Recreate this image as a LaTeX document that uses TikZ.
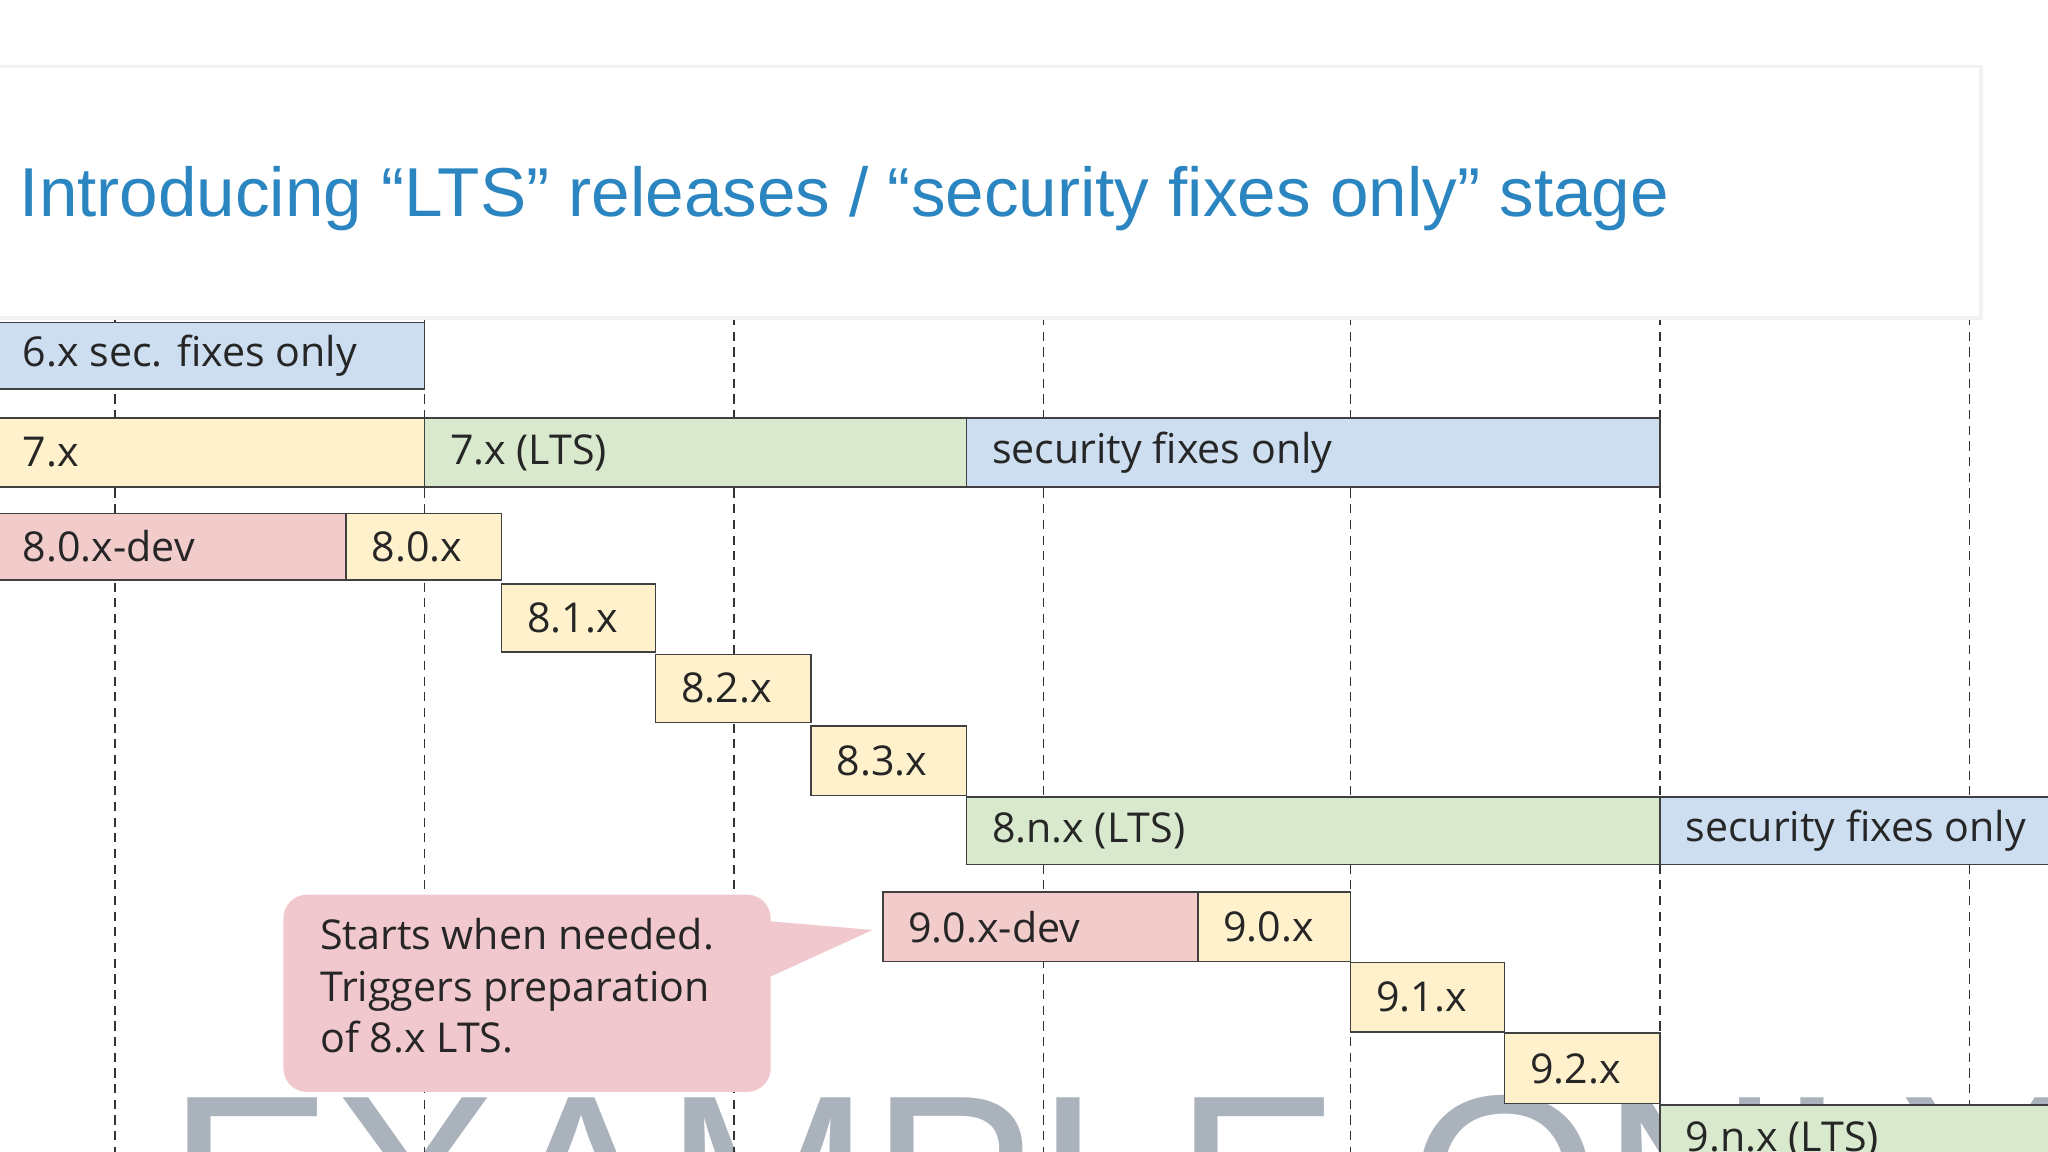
\documentclass[tikz,border=0pt]{standalone}
\usepackage{fontspec}
\setmainfont{Open Sans}
\newfontfamily\titlefont{Liberation Sans}
\definecolor{cbl}{RGB}{204,222,240}
\definecolor{cye}{RGB}{255,241,204}
\definecolor{cgr}{RGB}{216,233,206}
\definecolor{cpk}{RGB}{242,203,203}
\definecolor{ccall}{RGB}{240,200,205}
\definecolor{ctitle}{RGB}{42,133,192}
\definecolor{cwm}{RGB}{170,178,188}
\begin{document}
\begin{tikzpicture}[x=1pt,y=-1pt,
  bx/.style={draw=black!75,line width=1.2pt},
  bl/.style={fill=cbl}, ye/.style={fill=cye}, gr/.style={fill=cgr}, pk/.style={fill=cpk},
  lbl/.style={anchor=west,font=\fontsize{31.5}{33}\selectfont,text=black!85},
  vline/.style={line width=1.2pt,black!80,dash pattern=on 7pt off 5pt}]
\useasboundingbox (0,0) rectangle (1568,882);
\clip (0,0) rectangle (1568,882);
\fill[white] (0,0) rectangle (1568,882);
\def\B#1#2#3#4#5#6{\draw[bx,#5] (#1,#2) rectangle (#3,#4); \node[lbl] at (#1+16,{(#2+#4)/2}) {#6};}
\node[anchor=north west,font=\fontsize{190}{190}\selectfont\titlefont,text=cwm,inner sep=0pt] (wm) at (128,838) {EXAMPLE ONLY};
\foreach \x in {88,325,562,799,1034,1271,1508} \draw[vline] (\x,242) -- (\x,882);
\B{-2}{247}{325}{298}{bl}{6.x sec. fixes only}
\B{-2}{320}{325}{373}{ye}{7.x}
\B{325}{320}{740}{373}{gr}{7.x (LTS)}
\B{740}{320}{1271}{373}{bl}{security fixes only}
\B{-2}{393}{265}{444}{pk}{8.0.x-dev}
\B{265}{393}{384}{444}{ye}{8.0.x}
\B{384}{447}{502}{499}{ye}{8.1.x}
\B{502}{501}{621}{553}{ye}{8.2.x}
\B{621}{556}{740}{609}{ye}{8.3.x}
\B{740}{610}{1271}{662}{gr}{8.n.x (LTS)}
\B{1271}{610}{1600}{662}{bl}{security fixes only}
\B{676}{683}{917}{736}{pk}{9.0.x-dev}
\B{917}{683}{1034}{736}{ye}{9.0.x}
\B{1034}{737}{1152}{790}{ye}{9.1.x}
\B{1152}{791}{1271}{845}{ye}{9.2.x}
\B{1271}{846}{1600}{900}{gr}{9.n.x (LTS)}
\fill[ccall, rounded corners=18pt] (217,685) rectangle (590,836);
\fill[ccall] (585,705) -- (668,712) -- (585,750) -- cycle;
\node[anchor=north west,align=left,font=\fontsize{31.5}{39.5}\selectfont,text=black!85,inner sep=0pt] (call) at (245,703) {Starts when needed.\\Triggers preparation\\of 8.x LTS.};
\fill[black!5] (0,50) rectangle (1518,245);
\fill[white] (0,52) rectangle (1515,242);
\node[anchor=west,font=\fontsize{53}{56}\selectfont\titlefont,text=ctitle,inner sep=0pt] (title) at (15,152) {Introducing “LTS” releases / “security fixes only” stage};
\end{tikzpicture}
\end{document}
